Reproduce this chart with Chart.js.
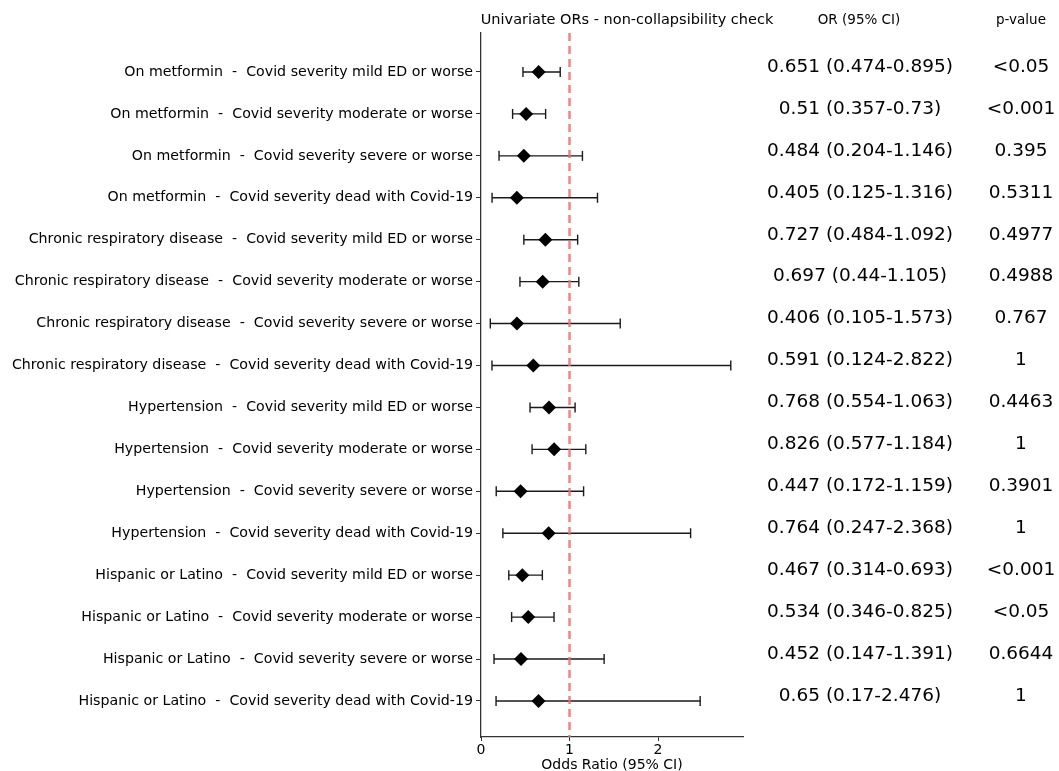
<!DOCTYPE html>
<html>
<head>
<meta charset="utf-8">
<script src="https://cdn.jsdelivr.net/npm/chart.js@4"></script>
<style>
  body { margin: 0; background: #fff; }
  #wrap { width: 1059px; height: 771px; position: relative; }
</style>
</head>
<body>
<div id="wrap"><canvas id="forest"></canvas></div>
<script>
const labels = [
  "On metformin  -  Covid severity mild ED or worse",
  "On metformin  -  Covid severity moderate or worse",
  "On metformin  -  Covid severity severe or worse",
  "On metformin  -  Covid severity dead with Covid-19",
  "Chronic respiratory disease  -  Covid severity mild ED or worse",
  "Chronic respiratory disease  -  Covid severity moderate or worse",
  "Chronic respiratory disease  -  Covid severity severe or worse",
  "Chronic respiratory disease  -  Covid severity dead with Covid-19",
  "Hypertension  -  Covid severity mild ED or worse",
  "Hypertension  -  Covid severity moderate or worse",
  "Hypertension  -  Covid severity severe or worse",
  "Hypertension  -  Covid severity dead with Covid-19",
  "Hispanic or Latino  -  Covid severity mild ED or worse",
  "Hispanic or Latino  -  Covid severity moderate or worse",
  "Hispanic or Latino  -  Covid severity severe or worse",
  "Hispanic or Latino  -  Covid severity dead with Covid-19",
];
const oddsRatios = [0.651, 0.51, 0.484, 0.405, 0.727, 0.697, 0.406, 0.591, 0.768, 0.826, 0.447, 0.764, 0.467, 0.534, 0.452, 0.65];
const lowerCI = [0.474, 0.357, 0.204, 0.125, 0.484, 0.44, 0.105, 0.124, 0.554, 0.577, 0.172, 0.247, 0.314, 0.346, 0.147, 0.17];
const upperCI = [0.895, 0.73, 1.146, 1.316, 1.092, 1.105, 1.573, 2.822, 1.063, 1.184, 1.159, 2.368, 0.693, 0.825, 1.391, 2.476];
const pValues = ["<0.05", "<0.001", "0.395", "0.5311", "0.4977", "0.4988", "0.767", "1", "0.4463", "1", "0.3901", "1", "<0.001", "<0.05", "0.6644", "1"];
const xTicks = [0, 1, 2];
const refLine = 1;

const titleText = "Univariate ORs - non-collapsibility check";
const headers = ["OR (95% CI)", "p-value"];

const FONT = "'DejaVu Sans', sans-serif";
const Y_MIN = 0.07, Y_MAX = 16.86;
const rows = labels.map((_, i) => i + 1);

// one line dataset for all intervals, broken by null points
const ciData = [];
rows.forEach((y, i) => {
  ciData.push({ x: lowerCI[i], y }, { x: upperCI[i], y }, { x: null, y: null });
});

const tablePlugin = {
  id: "forestTable",
  afterDraw(chart) {
    const { ctx } = chart;
    const yScale = chart.scales.y;
    ctx.save();
    ctx.fillStyle = "#000";
    ctx.textBaseline = "middle";
    ctx.textAlign = "center";
    ctx.font = `14.5px ${FONT}`;
    ctx.fillText(titleText, 627, 20);
    ctx.font = `13.5px ${FONT}`;
    ctx.fillText(headers[0], 859, 20);
    ctx.fillText(headers[1], 1021, 20);
    ctx.font = `18.5px ${FONT}`;
    rows.forEach((r, i) => {
      const py = yScale.getPixelForValue(r) - 5;
      ctx.fillText(`${oddsRatios[i]} (${lowerCI[i]}-${upperCI[i]})`, 860, py);
      ctx.fillText(pValues[i], 1021, py);
    });
    ctx.restore();
  },
};

new Chart(document.getElementById("forest"), {
  type: "scatter",
  data: {
    datasets: [
      {
        label: "OR",
        data: rows.map((y, i) => ({ x: oddsRatios[i], y })),
        pointStyle: "rectRot",
        pointRadius: 7,
        backgroundColor: "#000",
        borderColor: "#000",
        borderWidth: 0,
        order: 0,
      },
      {
        label: "ref",
        data: [{ x: refLine, y: Y_MIN }, { x: refLine, y: Y_MAX }],
        showLine: true,
        borderColor: "rgba(240, 110, 110, 0.85)",
        borderWidth: 2.5,
        borderDash: [8, 5],
        pointRadius: 0,
        order: 1,
      },
      {
        label: "95% CI",
        data: ciData,
        showLine: true,
        spanGaps: false,
        borderColor: "#1a1a1a",
        borderWidth: 1.4,
        pointStyle: "line",
        rotation: 90,
        pointRadius: 5,
        pointBorderColor: "#1a1a1a",
        pointBorderWidth: 1.4,
        order: 2,
      },
    ],
  },
  options: {
    responsive: true,
    maintainAspectRatio: false,
    animation: false,
    layout: { padding: { left: 0, top: 33, right: 316, bottom: 0 } },
    plugins: { legend: { display: false }, tooltip: { enabled: false } },
    scales: {
      x: {
        type: "linear",
        min: 0,
        max: 2.96,
        afterBuildTicks: (s) => { s.ticks = xTicks.map((v) => ({ value: v })); },
        afterFit: (s) => { s.height = 34; },
        ticks: { font: { family: FONT, size: 14 }, color: "#000", padding: 1 },
        grid: { drawOnChartArea: false, tickLength: 4, tickColor: "#333" },
        border: { color: "#333", width: 1.3 },
        title: {
          display: true,
          text: "Odds Ratio (95% CI)",
          font: { family: FONT, size: 14, lineHeight: 1 },
          color: "#000",
          padding: { top: 0, bottom: -1 },
        },
      },
      y: {
        type: "linear",
        reverse: true,
        min: Y_MIN,
        max: Y_MAX,
        afterBuildTicks: (s) => { s.ticks = rows.map((v) => ({ value: v })); },
        afterFit: (s) => { s.width = 481; },
        ticks: {
          autoSkip: false,
          callback: (v) => labels[v - 1],
          font: { family: FONT, size: 14.2 },
          color: "#000",
          padding: 3,
        },
        grid: { drawOnChartArea: false, tickLength: 5, tickColor: "#333" },
        border: { color: "#333", width: 1.3 },
      },
    },
  },
  plugins: [tablePlugin],
});
</script>
</body>
</html>
